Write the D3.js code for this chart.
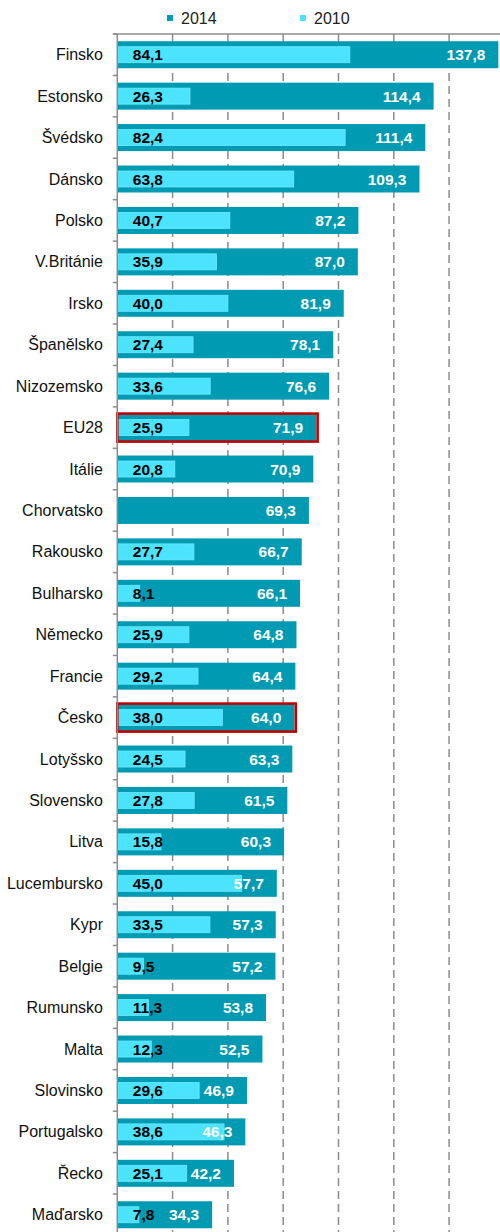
<!DOCTYPE html>
<html>
<head>
<meta charset="utf-8">
<script src="https://cdn.jsdelivr.net/npm/d3@7"></script>
<style>
  body { margin: 0; background: #fff; }
  svg { display: block; font-family: "Liberation Sans", Arial, sans-serif; }
</style>
</head>
<body>
<div id="chart"></div>
<script>
const countries = ["Finsko", "Estonsko", "Švédsko", "Dánsko", "Polsko", "V.Británie", "Irsko",
  "Španělsko", "Nizozemsko", "EU28", "Itálie", "Chorvatsko", "Rakousko", "Bulharsko", "Německo",
  "Francie", "Česko", "Lotyšsko", "Slovensko", "Litva", "Lucembursko", "Kypr", "Belgie",
  "Rumunsko", "Malta", "Slovinsko", "Portugalsko", "Řecko", "Maďarsko"];
const values2014 = [137.8, 114.4, 111.4, 109.3, 87.2, 87.0, 81.9, 78.1, 76.6, 71.9, 70.9, 69.3,
  66.7, 66.1, 64.8, 64.4, 64.0, 63.3, 61.5, 60.3, 57.7, 57.3, 57.2, 53.8, 52.5, 46.9, 46.3, 42.2, 34.3];
const values2010 = [84.1, 26.3, 82.4, 63.8, 40.7, 35.9, 40.0, 27.4, 33.6, 25.9, 20.8, null,
  27.7, 8.1, 25.9, 29.2, 38.0, 24.5, 27.8, 15.8, 45.0, 33.5, 9.5, 11.3, 12.3, 29.6, 38.6, 25.1, 7.8];
const gridTicks = [20, 40, 60, 80, 100, 120];
const highlighted = ["EU28", "Česko"];
const legendItems = [
  { label: "2014", color: "#009bb3" },
  { label: "2010", color: "#4ce3ff" }
];

const W = 500, H = 1232;
const plotLeft = 117.3, plotTop = 34, rowH = 41.43;
const fmt = v => d3.format(".1f")(v).replace(".", ",");

const svg = d3.select("#chart").append("svg")
  .attr("width", W).attr("height", H);

const x = d3.scaleLinear().domain([0, 140]).range([plotLeft, plotLeft + 140 * 2.765]);
const y = d3.scaleBand().domain(countries)
  .range([plotTop, plotTop + countries.length * rowH]);

// Dashed gridlines
svg.append("g").selectAll("line").data(gridTicks).join("line")
  .attr("x1", d => x(d)).attr("x2", d => x(d))
  .attr("y1", plotTop).attr("y2", H)
  .attr("stroke", "#8c8c8c").attr("stroke-width", 1.5)
  .attr("stroke-dasharray", "8,5");

// Legend
const lg = svg.append("g");
legendItems.forEach((it, i) => {
  const lx = 167 + i * 133;
  lg.append("rect").attr("x", lx).attr("y", 15).attr("width", 6).attr("height", 6)
    .attr("fill", it.color);
  lg.append("text").attr("x", lx + 14).attr("y", 24)
    .attr("font-size", 16).attr("fill", "#222").text(it.label);
});

const barH = 27, innerH = 16;

// 2014 bars
svg.append("g").selectAll("rect").data(countries).join("rect")
  .attr("x", plotLeft)
  .attr("y", d => y(d) + (y.bandwidth() - barH) / 2)
  .attr("width", (d, i) => x(values2014[i]) - plotLeft)
  .attr("height", barH)
  .attr("fill", legendItems[0].color);

// 2010 bars
svg.append("g").selectAll("rect").data(countries).join("rect")
  .filter((d, i) => values2010[i] != null)
  .attr("x", plotLeft)
  .attr("y", d => y(d) + (y.bandwidth() - innerH) / 2)
  .attr("width", d => x(values2010[countries.indexOf(d)]) - plotLeft)
  .attr("height", innerH)
  .attr("fill", legendItems[1].color)
  .attr("stroke", "#6fe9ff").attr("stroke-width", 0.8);

// Highlight boxes
svg.append("g").selectAll("rect").data(highlighted).join("rect")
  .attr("x", plotLeft)
  .attr("y", d => y(d) + (y.bandwidth() - barH) / 2 - 0.5)
  .attr("width", d => x(values2014[countries.indexOf(d)]) - plotLeft + 1.5)
  .attr("height", barH + 1)
  .attr("fill", "none")
  .attr("stroke", "#c00000").attr("stroke-width", 2.6);

// Axes
svg.append("line").attr("x1", 113).attr("x2", W).attr("y1", plotTop).attr("y2", plotTop)
  .attr("stroke", "#8c8c8c").attr("stroke-width", 1.5);
svg.append("line").attr("x1", plotLeft).attr("x2", plotLeft).attr("y1", plotTop).attr("y2", H)
  .attr("stroke", "#8c8c8c").attr("stroke-width", 1.5);
svg.append("g").selectAll("line").data(d3.range(countries.length + 1)).join("line")
  .attr("x1", plotLeft - 4.5).attr("x2", plotLeft)
  .attr("y1", i => plotTop + i * y.step()).attr("y2", i => plotTop + i * y.step())
  .attr("stroke", "#8c8c8c").attr("stroke-width", 1.5);

// Category labels
svg.append("g").selectAll("text").data(countries).join("text")
  .attr("x", 103)
  .attr("y", d => y(d) + y.bandwidth() / 2)
  .attr("dy", "0.35em")
  .attr("text-anchor", "end")
  .attr("font-size", 16).attr("fill", "#111")
  .text(d => d);

// 2014 value labels
svg.append("g").selectAll("text").data(countries).join("text")
  .attr("x", (d, i) => x(values2014[i]) - 13)
  .attr("y", d => y(d) + y.bandwidth() / 2)
  .attr("dy", "0.36em")
  .attr("text-anchor", "end")
  .attr("font-size", 15.5).attr("font-weight", "bold").attr("fill", "#fff")
  .text((d, i) => fmt(values2014[i]));

// 2010 value labels
svg.append("g").selectAll("text").data(countries).join("text")
  .filter((d, i) => values2010[i] != null)
  .attr("x", plotLeft + 15.5)
  .attr("y", d => y(d) + y.bandwidth() / 2)
  .attr("dy", "0.36em")
  .attr("font-size", 15.5).attr("font-weight", "bold").attr("fill", "#000")
  .text(d => fmt(values2010[countries.indexOf(d)]));
</script>
</body>
</html>
